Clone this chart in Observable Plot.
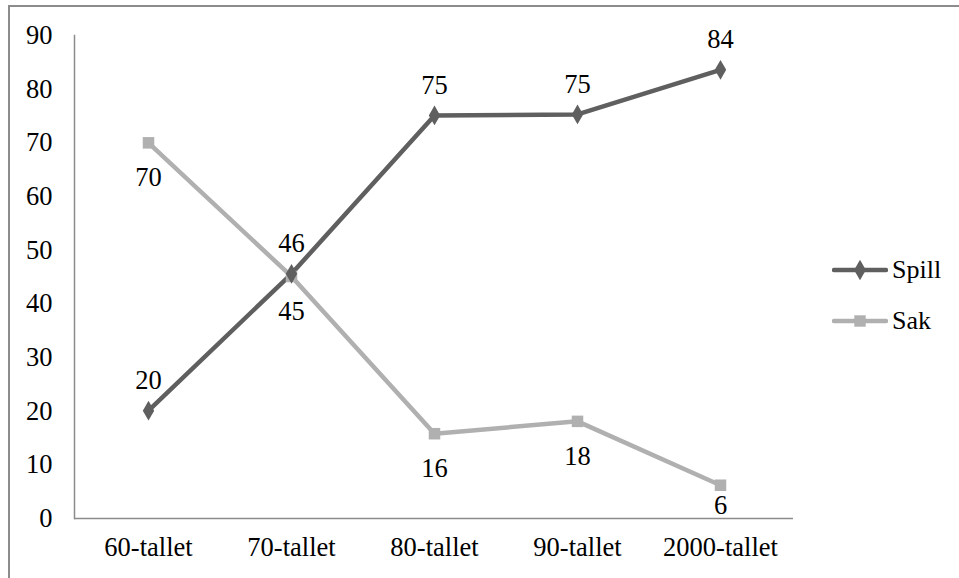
<!DOCTYPE html>
<html>
<head>
<meta charset="utf-8">
<script src="https://cdn.jsdelivr.net/npm/d3@7"></script>
<script src="https://cdn.jsdelivr.net/npm/@observablehq/plot@0.6"></script>
<style>
  body { margin: 0; background: #fff; }
  #wrap { position: relative; width: 959px; height: 578px; overflow: hidden; font-family: "Liberation Serif", "Times New Roman", serif; }
  #border { position: absolute; left: 8px; top: 5px; width: 2000px; height: 2000px; border-left: 2px solid #8c8c8c; border-top: 2px solid #8c8c8c; }
  #chart svg { font-family: "Liberation Serif", "Times New Roman", serif !important; }
  #legend { position: absolute; left: 832px; top: 254px; font-size: 26px; color: #000; }
  .item { display: flex; align-items: center; height: 32px; margin-bottom: 19px; }
  .item svg { margin-right: 4px; }
</style>
</head>
<body>
<div id="wrap">
  <div id="border"></div>
  <div id="chart"></div>
  <div id="legend"></div>
</div>
<script>
const categories = ["60-tallet", "70-tallet", "80-tallet", "90-tallet", "2000-tallet"];
const spill = [20.1, 45.6, 75.1, 75.3, 83.6];
const sak = [70.0, 45.1, 15.8, 18.1, 6.2];
const spillLabels = ["20", "46", "75", "75", "84"];
const sakLabels = ["70", "45", "16", "18", "6"];
const yTicks = [0, 10, 20, 30, 40, 50, 60, 70, 80, 90];

const colorSpill = "#5f5f5f";
const colorSak = "#b0b0b0";

const spillData = categories.map((c, i) => ({cat: c, v: spill[i], label: spillLabels[i]}));
const sakData = categories.map((c, i) => ({cat: c, v: sak[i], label: sakLabels[i]}));
const FS = 26.5;

const chart = Plot.plot({
  width: 959,
  height: 578,
  marginLeft: 74,
  marginRight: 166,
  marginTop: 35,
  marginBottom: 60,
  style: `font-family: 'Liberation Serif', 'Times New Roman', serif; font-size: ${FS}px; background: transparent; color: #000;`,
  x: { type: "point", domain: categories, padding: 0.5, label: null },
  y: { domain: [0, 90], label: null },
  marks: [
    Plot.frame({ anchor: "left", stroke: "#8c8c8c", strokeWidth: 1.5 }),
    Plot.ruleY([0], { stroke: "#8c8c8c", strokeWidth: 1.5 }),
    Plot.axisY({ ticks: yTicks, tickSize: 0, tickPadding: 22, fontSize: FS, label: null }),
    Plot.axisX({ tickSize: 0, tickPadding: 19, fontSize: FS, label: null }),
    Plot.line(sakData, { x: "cat", y: "v", stroke: colorSak, strokeWidth: 4.5 }),
    Plot.line(spillData, { x: "cat", y: "v", stroke: colorSpill, strokeWidth: 4.5 }),
    Plot.dot(sakData, { x: "cat", y: "v", symbol: "square", r: 6.5, fill: colorSak, stroke: "none" }),
    Plot.dot(spillData, { x: "cat", y: "v", symbol: "diamond", r: 6, fill: colorSpill, stroke: "none" }),
    Plot.text(spillData, { x: "cat", y: "v", text: "label", dy: -30, fontSize: FS, fill: "#000" }),
    Plot.text(sakData, { filter: d => d.v >= 10, x: "cat", y: "v", text: "label", dy: 35, fontSize: FS, fill: "#000" }),
    Plot.text(sakData, { filter: d => d.v < 10, x: "cat", y: "v", text: "label", dy: 20, fontSize: FS, fill: "#000" })
  ]
});
document.getElementById("chart").appendChild(chart);

// legend
const legend = d3.select("#legend");
const series = [
  { name: "Spill", color: colorSpill, symbol: d3.symbolDiamond, size: 120 },
  { name: "Sak", color: colorSak, symbol: d3.symbolSquare, size: 130 }
];
series.forEach(s => {
  const item = legend.append("div").attr("class", "item");
  const svg = item.append("svg").attr("width", 56).attr("height", 32);
  svg.append("line").attr("x1", 2).attr("x2", 54).attr("y1", 16).attr("y2", 16)
    .attr("stroke", s.color).attr("stroke-width", 4.5).attr("stroke-linecap", "round");
  svg.append("path").attr("d", d3.symbol(s.symbol, s.size)()).attr("transform", "translate(28,16)").attr("fill", s.color);
  item.append("span").text(s.name);
});
</script>
</body>
</html>
